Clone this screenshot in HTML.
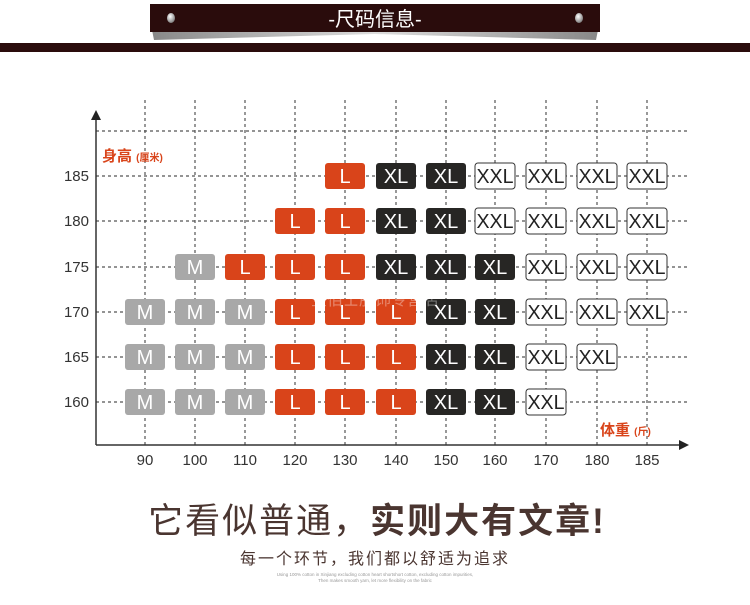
<!DOCTYPE html>
<html><head><meta charset="utf-8"><style>
body{margin:0;width:750px;height:600px;background:#fff;overflow:hidden;font-family:"Liberation Sans","Noto Sans CJK SC",sans-serif}
</style></head><body>
<svg width="750" height="600" xmlns="http://www.w3.org/2000/svg" font-family="Liberation Sans, Noto Sans CJK SC, sans-serif">
<defs>
<linearGradient id="sh" x1="0" y1="0" x2="1" y2="0"><stop offset="0" stop-color="#888"/><stop offset="0.5" stop-color="#ddd"/><stop offset="1" stop-color="#888"/></linearGradient>
<radialGradient id="bead" cx="0.4" cy="0.35" r="0.7"><stop offset="0" stop-color="#fff"/><stop offset="1" stop-color="#777"/></radialGradient>
</defs>
<polygon points="152,30 598,30 596,40 375,34 154,40" fill="url(#sh)"/>
<rect x="150" y="4" width="450" height="28" fill="#2a0c0c"/>
<ellipse cx="171" cy="18" rx="4" ry="5" fill="url(#bead)"/>
<ellipse cx="579" cy="18" rx="4" ry="5" fill="url(#bead)"/>
<text x="375" y="26" text-anchor="middle" font-size="20" fill="#fff">-尺码信息-</text>
<rect x="0" y="43" width="750" height="9" fill="#2a0c0c"/>
<g stroke="#555" stroke-width="1.2" stroke-dasharray="3,3">
<line x1="96" y1="131" x2="688" y2="131"/>
<line x1="96" y1="176" x2="688" y2="176"/>
<line x1="96" y1="221" x2="688" y2="221"/>
<line x1="96" y1="267" x2="688" y2="267"/>
<line x1="96" y1="312" x2="688" y2="312"/>
<line x1="96" y1="357" x2="688" y2="357"/>
<line x1="96" y1="402" x2="688" y2="402"/>
<line x1="145" y1="100" x2="145" y2="445"/>
<line x1="195" y1="100" x2="195" y2="445"/>
<line x1="245" y1="100" x2="245" y2="445"/>
<line x1="295" y1="100" x2="295" y2="445"/>
<line x1="345" y1="100" x2="345" y2="445"/>
<line x1="396" y1="100" x2="396" y2="445"/>
<line x1="446" y1="100" x2="446" y2="445"/>
<line x1="495" y1="100" x2="495" y2="445"/>
<line x1="546" y1="100" x2="546" y2="445"/>
<line x1="597" y1="100" x2="597" y2="445"/>
<line x1="647" y1="100" x2="647" y2="445"/>
</g>
<line x1="96" y1="118" x2="96" y2="445" stroke="#333" stroke-width="1.5"/>
<polygon points="96,110 91,120 101,120" fill="#222"/>
<line x1="96" y1="445" x2="680" y2="445" stroke="#333" stroke-width="1.5"/>
<polygon points="689,445 679,440 679,450" fill="#222"/>
<g font-size="15" fill="#333" text-anchor="end">
<text x="89" y="181">185</text><text x="89" y="226">180</text><text x="89" y="272">175</text>
<text x="89" y="317">170</text><text x="89" y="362">165</text><text x="89" y="407">160</text>
</g>
<g font-size="15" fill="#333" text-anchor="middle">
<text x="145" y="465">90</text><text x="195" y="465">100</text><text x="245" y="465">110</text><text x="295" y="465">120</text>
<text x="345" y="465">130</text><text x="396" y="465">140</text><text x="446" y="465">150</text><text x="495" y="465">160</text>
<text x="546" y="465">170</text><text x="597" y="465">180</text><text x="647" y="465">185</text>
</g>
<text x="102" y="161" fill="#d9441a" font-size="15" font-weight="bold">身高 <tspan font-size="10">(厘米)</tspan></text>
<text x="600" y="435" fill="#d9441a" font-size="15" font-weight="bold">体重 <tspan font-size="10">(斤)</tspan></text>
<g id="boxes" font-size="20" text-anchor="middle"></g>
<text x="375" y="305" text-anchor="middle" font-size="16" fill="#fff" opacity="0.35">宝佰士服饰专营店</text>
<text x="377" y="533" text-anchor="middle" font-size="35" fill="#4a3530" letter-spacing="2">它看似普通，<tspan font-weight="bold">实则大有文章!</tspan></text>
<text x="375" y="564" text-anchor="middle" font-size="16" fill="#4a3530" letter-spacing="2">每一个环节，我们都以舒适为追求</text>
<text x="375" y="576" text-anchor="middle" font-size="4.5" fill="#999">Using 100% cotton in Xinjiang excluding cotton heart shortshort cotton, excluding cotton impurities,</text>
<text x="375" y="582" text-anchor="middle" font-size="4.5" fill="#999">Then makes smooth yarn, let more flexibility on the fabric</text>
</svg>
<script>
var xs={90:145,100:195,110:245,120:295,130:345,140:396,150:446,160:495,170:546,180:597,185:647};
var ys={185:176,180:221,175:267,170:312,165:357,160:402};
var d={185:{130:'L',140:'XL',150:'XL',160:'XXL',170:'XXL',180:'XXL',185:'XXL'},
180:{120:'L',130:'L',140:'XL',150:'XL',160:'XXL',170:'XXL',180:'XXL',185:'XXL'},
175:{100:'M',110:'L',120:'L',130:'L',140:'XL',150:'XL',160:'XL',170:'XXL',180:'XXL',185:'XXL'},
170:{90:'M',100:'M',110:'M',120:'L',130:'L',140:'L',150:'XL',160:'XL',170:'XXL',180:'XXL',185:'XXL'},
165:{90:'M',100:'M',110:'M',120:'L',130:'L',140:'L',150:'XL',160:'XL',170:'XXL',180:'XXL'},
160:{90:'M',100:'M',110:'M',120:'L',130:'L',140:'L',150:'XL',160:'XL',170:'XXL'}};
var col={M:['#a8a8a8','#fff'],L:['#d9441a','#fff'],XL:['#272624','#fff'],XXL:['#fff','#222']};
var s='';
for(var r in d)for(var c in d[r]){var t=d[r][c],x=xs[c],y=ys[r],k=col[t];
s+='<rect x="'+(x-20)+'" y="'+(y-13)+'" width="40" height="26" rx="3" fill="'+k[0]+'"'+(t=='XXL'?' stroke="#333" stroke-width="1"':'')+'/>';
s+='<text x="'+x+'" y="'+(y+7)+'" fill="'+k[1]+'"'+(t=='XXL'?' textLength="37" lengthAdjust="spacingAndGlyphs"':'')+'>'+t+'</text>';}
document.getElementById('boxes').innerHTML=s;
</script>
</body></html>
